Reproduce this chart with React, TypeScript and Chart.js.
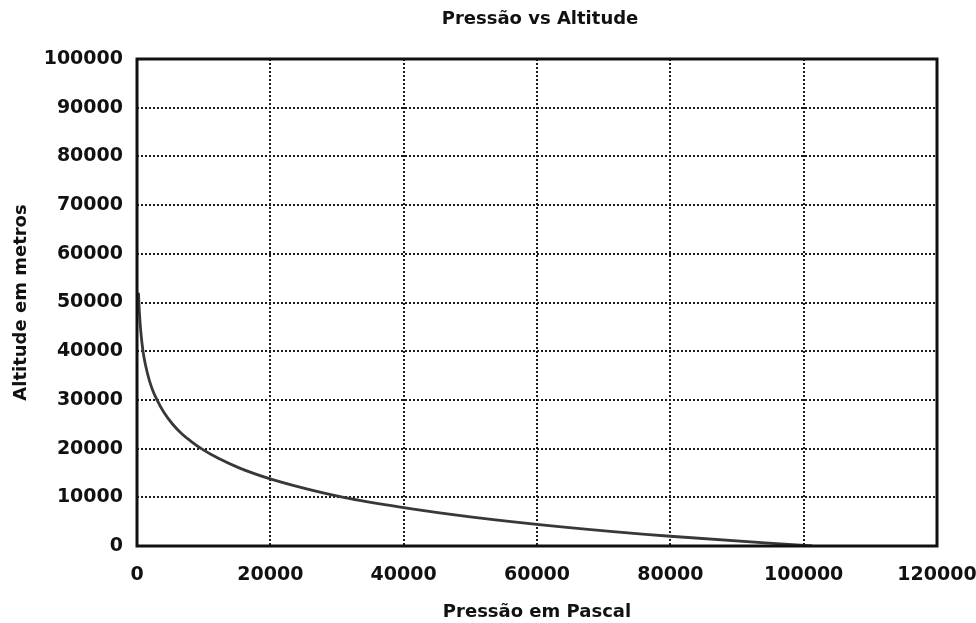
import React, { useEffect, useRef } from "react";
import { Chart, registerables } from "chart.js";

Chart.register(...registerables);

// Pressure (Pa) and altitude (m), low pressure first
const pressures = [220, 360, 570, 900, 1300, 1850, 2350, 3000, 4000, 5350, 6750, 8100, 9650, 12200, 15400, 19500, 24700, 31000, 39500, 50000, 63300, 80000, 101300];
const altitudes = [52000, 48000, 44000, 40000, 37000, 34000, 32000, 30000, 27500, 25000, 23000, 21500, 20000, 18000, 16000, 14000, 12000, 10000, 8000, 6000, 4000, 2000, 0];

const xTicks = [0, 20000, 40000, 60000, 80000, 100000, 120000];
const yTicks = [0, 10000, 20000, 30000, 40000, 50000, 60000, 70000, 80000, 90000, 100000];

const titleText = "Pressão vs Altitude";
const xTitle = "Pressão em Pascal";
const yTitle = "Altitude em metros";

const framePlugin = {
  id: "frame",
  afterDraw(chart: any) {
    const { ctx, chartArea } = chart;
    ctx.save();
    ctx.strokeStyle = "#111";
    ctx.lineWidth = 3;
    ctx.strokeRect(chartArea.left, chartArea.top, chartArea.right - chartArea.left, chartArea.bottom - chartArea.top);
    ctx.fillStyle = "#111";
    ctx.font = "bold 18px 'DejaVu Sans'";
    ctx.textAlign = "center";
    ctx.textBaseline = "middle";
    ctx.fillText(titleText, (chartArea.left + chartArea.right) / 2 + 3, 19);
    ctx.restore();
  },
};

export default function App() {
  const ref = useRef<HTMLCanvasElement>(null);
  useEffect(() => {
    document.body.style.margin = "0";
    const data = pressures.map((p, i) => ({ x: p, y: altitudes[i] }));
    const tickFont = { family: "DejaVu Sans", size: 19, weight: "bold" as any };
    const titleFont = { family: "DejaVu Sans", size: 18, weight: "bold" as any };
    const chart = new Chart(ref.current!, {
      type: "scatter",
      data: {
        datasets: [
          {
            data,
            showLine: true,
            borderColor: "#383838",
            borderWidth: 2.8,
            pointRadius: 0,
            cubicInterpolationMode: "monotone",
            fill: false,
          } as any,
        ],
      },
      plugins: [framePlugin],
      options: {
        animation: false,
        responsive: false,
        maintainAspectRatio: false,
        layout: { padding: { left: 0, right: 39, top: 59, bottom: 0 } },
        plugins: {
          legend: { display: false },
          tooltip: { enabled: false },
          title: { display: false },
        },
        scales: {
          x: {
            type: "linear",
            min: 0,
            max: 120000,
            afterBuildTicks(scale: any) {
              scale.ticks = xTicks.map((v) => ({ value: v }));
            },
            afterFit(scale: any) {
              scale.paddingRight = 0;
              scale.height = 77;
            },
            ticks: {
              color: "#111",
              font: tickFont,
              padding: 18,
              maxRotation: 0,
              callback: (v: any) => String(v),
            },
            grid: {
              color: "#1a1a1a",
              lineWidth: 2,
              drawTicks: false,
            },
            border: { display: false, dash: [2, 2] },
            title: {
              display: true,
              text: xTitle,
              color: "#111",
              font: titleFont,
              padding: { top: 10, bottom: 0 },
            },
          },
          y: {
            type: "linear",
            min: 0,
            max: 100000,
            afterBuildTicks(scale: any) {
              scale.ticks = yTicks.map((v) => ({ value: v }));
            },
            afterFit(scale: any) {
              scale.width = 137;
              scale.paddingTop = 0;
            },
            ticks: {
              color: "#111",
              font: tickFont,
              padding: 14,
              callback: (v: any) => String(v),
            },
            grid: {
              color: "#1a1a1a",
              lineWidth: 2,
              drawTicks: false,
            },
            border: { display: false, dash: [2, 2] },
            title: {
              display: true,
              text: yTitle,
              color: "#111",
              font: titleFont,
              padding: { top: 11, bottom: 10 },
            },
          },
        },
      } as any,
    });
    return () => chart.destroy();
  }, []);
  return (
    <div style={{ position: "fixed", left: 0, top: 0, width: 976, height: 623, background: "#fff" }}>
      <canvas ref={ref} width={976} height={623} style={{ width: 976, height: 623 }} />
    </div>
  );
}
